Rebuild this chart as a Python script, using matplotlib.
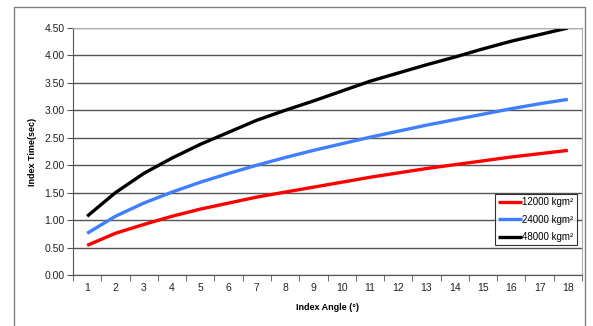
import matplotlib
matplotlib.use("Agg")
import matplotlib.pyplot as plt
from matplotlib.patches import Rectangle
import numpy as np

# Data
angles = list(range(1, 19))
time_12000 = [0.54, 0.76, 0.92, 1.07, 1.20, 1.31, 1.42, 1.51, 1.60,
              1.69, 1.78, 1.86, 1.94, 2.01, 2.08, 2.15, 2.21, 2.27]
time_24000 = [0.76, 1.07, 1.31, 1.51, 1.69, 1.85, 2.00, 2.14, 2.27,
              2.39, 2.51, 2.62, 2.73, 2.83, 2.93, 3.03, 3.12, 3.20]
time_48000 = [1.07, 1.50, 1.85, 2.13, 2.38, 2.60, 2.82, 3.00, 3.17,
              3.35, 3.53, 3.68, 3.83, 3.97, 4.12, 4.26, 4.38, 4.50]
series_labels = ["12000 kgm²", "24000 kgm²", "48000 kgm²"]
series_colors = ["#ff0000", "#3f7fff", "#000000"]
y_ticks = np.arange(0, 4.51, 0.5)

plt.rcParams['font.family'] = ['Liberation Sans', 'DejaVu Sans']

W, H = 593, 326
fig = plt.figure(figsize=(W / 100, H / 100), dpi=100)
fig.patch.set_facecolor("white")

# outer chart frame (runs off the bottom of the image)
fig.patches.append(Rectangle((14 / W, -0.1), (585 - 14) / W, 1.1 - 7 / H,
                             transform=fig.transFigure, fill=False,
                             edgecolor="#808080", linewidth=1.0))

ax = fig.add_axes([73 / W, 1 - 275 / H, (582 - 73) / W, (275 - 28) / H])

for vals, lab, col in zip([time_12000, time_24000, time_48000], series_labels, series_colors):
    ax.plot(angles, vals, color=col, linewidth=2.4, label=lab, solid_capstyle="butt")

ax.set_xlim(0.5, 18.5)
ax.set_ylim(0, 4.5)
ax.set_yticks(y_ticks)
ax.set_yticklabels([f"{v:.2f}" for v in y_ticks], fontsize=7.5, color="#222222")
ax.set_xticks(angles)
ax.set_xticklabels([str(a) for a in angles], fontsize=7.5, color="#222222")
ax.tick_params(axis="x", length=0, pad=6)
ax.set_xticks(np.arange(0.5, 18.6, 1), minor=True)
ax.tick_params(axis="x", which="minor", length=4, direction="out", color="#555555")
ax.tick_params(axis="y", length=4, direction="out", color="#555555", pad=2)

ax.grid(axis="y", color="#555555", linewidth=1.0)
ax.set_axisbelow(True)
for side in ["top", "right"]:
    ax.spines[side].set_color("#b0b0b0")
for side in ["left", "bottom"]:
    ax.spines[side].set_color("#555555")

ax.set_xlabel("Index Angle (°)", fontsize=6.5, fontweight="bold", labelpad=7)
ax.set_ylabel("Index Time(sec)", fontsize=6.5, fontweight="bold", labelpad=5)

leg = ax.legend(loc="lower right", bbox_to_anchor=(0.99, 0.12), fontsize=7,
                frameon=True, fancybox=False, edgecolor="black",
                handlelength=2.4, handletextpad=0.05, borderpad=0.35,
                labelspacing=0.75, borderaxespad=0)
leg.get_frame().set_linewidth(0.8)

fig.savefig("out.png", dpi=100)
